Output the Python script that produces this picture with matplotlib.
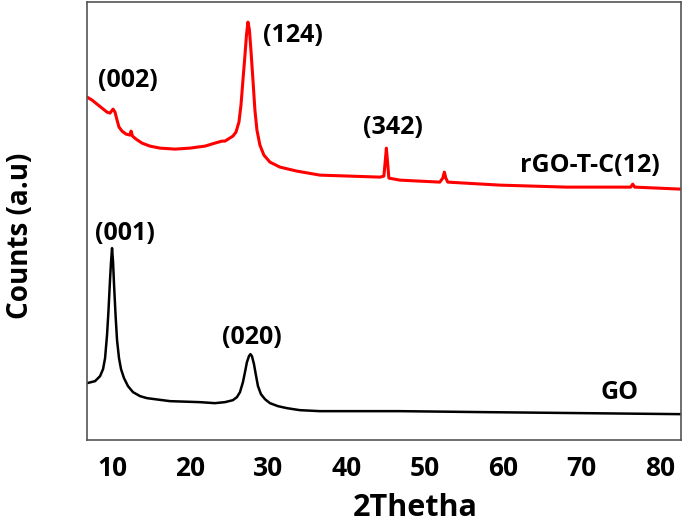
import matplotlib
matplotlib.use('Agg')
import matplotlib.pyplot as plt

plt.rcParams['font.family'] = ['Open Sans', 'DejaVu Sans']
plt.rcParams['font.weight'] = 'bold'

# XRD pattern of GO (arbitrary units)
go_2theta = [6.81, 7.83, 8.47, 8.85, 9.11, 9.36, 9.55, 9.74, 9.87, 10.0,
             10.13, 10.26, 10.45, 10.64, 10.89, 11.15, 11.53, 12.04, 12.68,
             13.58, 14.47, 17.41, 21.24, 23.15, 24.43, 25.45, 25.96, 26.35,
             26.73, 26.99, 27.24, 27.50, 27.69, 27.88, 28.14, 28.39, 28.65,
             29.03, 29.54, 30.18, 31.2, 32.35, 34.0, 36.57, 46.78, 57.9, 82.68]
go_counts = [57, 59, 64, 71, 82, 105, 130, 160, 178, 192,
             178, 155, 125, 100, 82, 71, 62, 54, 48,
             44, 42, 39, 38, 37, 38, 40, 43, 48,
             58, 68, 78, 84, 86, 84, 76, 65, 54,
             46, 41, 37, 34, 32, 30, 29, 29, 28, 26]

# XRD pattern of rGO-T-C(12)
rgo_2theta = [6.81, 7.45, 8.08, 8.72, 9.36, 9.74, 10.13, 10.38, 10.64, 10.89,
              11.28, 11.79, 12.30, 12.43, 12.62, 13.07, 13.83, 14.85, 16.13,
              18.05, 19.96, 21.88, 23.15, 24.05, 24.43, 25.45, 25.84, 26.22,
              26.48, 26.73, 26.99, 27.18, 27.37, 27.56, 27.75, 28.01, 28.26,
              28.52, 28.90, 29.41, 30.18, 31.46, 33.63, 36.57, 40.40, 44.23,
              44.74, 44.93, 45.06, 45.19, 45.38, 46.78, 51.89, 52.27, 52.47,
              52.66, 52.91, 59.55, 68.11, 76.29, 76.54, 76.80, 82.68]
rgo_counts = [343, 340, 336, 332, 328, 327, 331, 328, 320, 313,
              309, 306, 305, 309, 304, 301, 297, 294, 292,
              291, 292, 294, 297, 299, 299, 304, 308, 318,
              335, 360, 385, 405, 418, 410, 390, 360, 330,
              310, 295, 285, 278, 273, 269, 265, 264, 263,
              264, 280, 292, 280, 262, 260, 258, 262, 268,
              262, 258, 255, 253, 253, 256, 253, 251]

peak_labels = ['(002)', '(124)', '(342)', '(001)', '(020)']
peak_x = [12.0, 33.1, 45.9, 11.7, 27.9]
peak_y = [360, 405, 313, 207, 103]

fig = plt.figure(figsize=(6.85, 5.24), dpi=100)
ax = fig.add_axes([0.127, 0.160, 0.867, 0.836])

ax.plot(go_2theta, go_counts, color='black', lw=1.8)
ax.plot(rgo_2theta, rgo_counts, color='#ff0000', lw=2.2)

for lab, x, y in zip(peak_labels, peak_x, peak_y):
    ax.text(x, y, lab, ha='center', va='center', fontsize=18, fontweight='bold')
ax.text(71.1, 275, 'rGO-T-C(12)', ha='center', va='center', fontsize=18, fontweight='bold')
ax.text(74.9, 48, 'GO', ha='center', va='center', fontsize=18, fontweight='bold')

ax.set_xlim(6.8, 82.7)
ax.set_ylim(0, 438)
ax.set_xticks([10, 20, 30, 40, 50, 60, 70, 80])
ax.set_yticks([])
ax.tick_params(axis='x', length=0, pad=11, labelsize=19)
for t in ax.get_xticklabels():
    t.set_fontweight('bold')

for s in ax.spines.values():
    s.set_color('#555555')
    s.set_linewidth(1.2)

ax.set_xlabel('2Thetha', fontsize=22, fontweight='bold')
ax.xaxis.set_label_coords(0.552, -0.121)
ax.set_ylabel('Counts (a.u)', fontsize=20, fontweight='bold')
ax.yaxis.set_label_coords(-0.0875, 0.466)

fig.savefig('out.png', dpi=100)
